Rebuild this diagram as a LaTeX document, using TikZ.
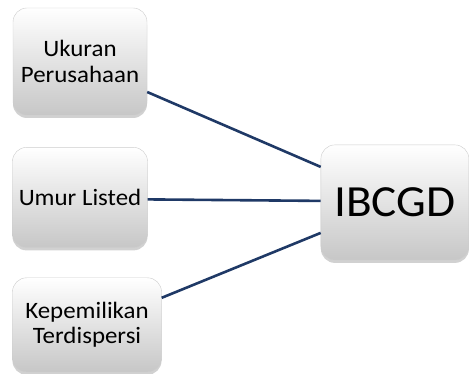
\documentclass[tikz,border=0pt]{standalone}
\usepackage{fontspec}
\setmainfont{Carlito}[FakeStretch=1.06]
\usepackage{tikz}
\usetikzlibrary{positioning}
\usetikzlibrary{shadows}
\definecolor{garisbiru}{RGB}{31,57,102}
\tikzstyle{kotak} = [rectangle, rounded corners=14pt, inner sep=2pt, text centered, align=center, draw=black!20, top color=white, bottom color=black!22, drop shadow={shadow xshift=0pt, shadow yshift=-3pt, opacity=0.3, fill=black!60}, font=\fontsize{23.5}{25.3}\selectfont]
\tikzstyle{kotakbesar} = [kotak, minimum width=148pt, minimum height=115pt, font=\fontsize{44.5}{50}\selectfont]
\tikzstyle{garis} = [draw=garisbiru, line width=2.6pt]

\begin{document}
\begin{tikzpicture}
			\useasboundingbox (0,0) rectangle (469pt,-374pt);
			\node[kotak, minimum width=134pt, minimum height=107pt](ukuran) at (80pt,-61.5pt){Ukuran\\Perusahaan};
			\node[kotak, minimum width=135pt, minimum height=100pt, below=32pt of ukuran](umur){Umur Listed};
			\node[kotak, minimum width=149pt, minimum height=94pt, below=30pt of umur.south west, anchor=north west](kepemilikan){Kepemilikan\\Terdispersi};
			\node[kotakbesar, right=173pt of umur, yshift=-5pt](ibcgd){IBCGD};
			\draw[garis] ([yshift=-30.5pt]ukuran.east) -- ([yshift=35.5pt]ibcgd.west);
			\draw[garis] ([yshift=-2pt]umur.east) -- ([yshift=1.5pt]ibcgd.west);
			\draw[garis] ([yshift=27pt]kepemilikan.east) -- ([yshift=-30.5pt]ibcgd.west);
		\end{tikzpicture}
\end{document}
